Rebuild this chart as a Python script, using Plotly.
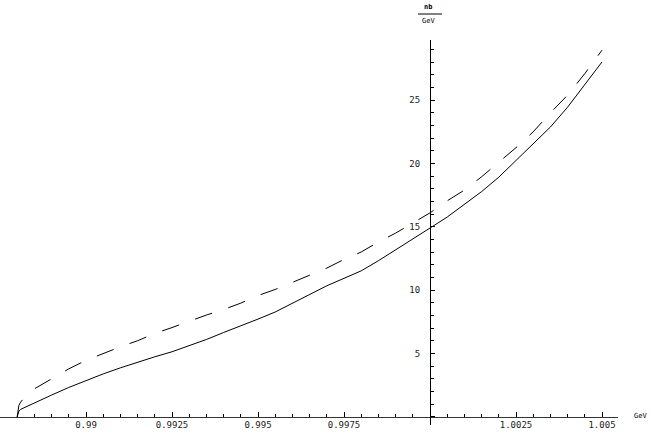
import plotly.graph_objects as go

# energy grid (GeV) and the two cross sections (nb/GeV)
energy = [0.98800, 0.98805, 0.98810, 0.98820, 0.98850, 0.98900, 0.98950, 0.99000,
          0.99050, 0.99100, 0.99150, 0.99200, 0.99250, 0.99300, 0.99350, 0.99400,
          0.99450, 0.99500, 0.99550, 0.99600, 0.99650, 0.99700, 0.99750, 0.99800,
          0.99850, 0.99900, 0.99950, 1.00000, 1.00050, 1.00100, 1.00150, 1.00200,
          1.00250, 1.00300, 1.00350, 1.00400, 1.00450, 1.00500]

solid = [0.0, 0.45, 0.58, 0.71, 1.10, 1.71, 2.31, 2.85,
         3.38, 3.86, 4.32, 4.73, 5.13, 5.59, 6.10, 6.65,
         7.15, 7.71, 8.27, 8.94, 9.65, 10.34, 10.93, 11.52,
         12.32, 13.16, 13.99, 14.90, 15.77, 16.74, 17.78, 18.92,
         20.23, 21.50, 22.88, 24.45, 26.19, 28.02]

dashed = [0.0, 0.90, 1.15, 1.50, 2.20, 3.00, 3.78, 4.45,
          5.00, 5.52, 6.00, 6.58, 7.04, 7.54, 8.03, 8.47,
          8.97, 9.57, 10.05, 10.61, 11.20, 11.74, 12.42, 13.01,
          13.80, 14.50, 15.30, 16.10, 17.05, 17.90, 18.95, 20.10,
          21.25, 22.50, 24.00, 25.40, 27.10, 28.95]

x_ticks = [0.99, 0.9925, 0.995, 0.9975, 1.0, 1.0025, 1.005]
x_labels = ['0.99', '0.9925', '0.995', '0.9975', '', '1.0025', '1.005']
y_ticks = [0, 5, 10, 15, 20, 25]
y_labels = ['', '5', '10', '15', '20', '25']

x_range = [0.9875, 1.005465]
y_range = [-0.656, 29.755]

fig = go.Figure()
fig.add_trace(go.Scatter(x=energy, y=solid, mode='lines',
                         line=dict(color='black', width=1)))
fig.add_trace(go.Scatter(x=energy, y=dashed, mode='lines',
                         line=dict(color='black', width=1, dash='18px,17px')))

# axes cross at (1.0, 0) like the original
xpos = (0 - y_range[0]) / (y_range[1] - y_range[0])
ypos = (1.0 - x_range[0]) / (x_range[1] - x_range[0])

tickfont = dict(family='DejaVu Sans Mono', size=9, color='#222')

fig.update_layout(
    width=654, height=436,
    margin=dict(l=0, r=36, t=40, b=11),
    paper_bgcolor='white', plot_bgcolor='white',
    showlegend=False,
    xaxis=dict(range=x_range, anchor='free', position=xpos, domain=[0, 1],
               showgrid=False, zeroline=False, showline=True, linecolor='#333', linewidth=1,
               tickmode='array', tickvals=x_ticks, ticktext=x_labels,
               ticks='inside', ticklen=5, tickcolor='black', tickwidth=1, tickfont=tickfont,
               minor=dict(tickmode='linear', tick0=0.99, dtick=0.0005, ticks='inside',
                          ticklen=3, tickcolor='black', tickwidth=1, showgrid=False)),
    yaxis=dict(range=y_range, anchor='free', position=ypos, domain=[0, 1],
               showgrid=False, zeroline=False, showline=True, linecolor='black', linewidth=1,
               tickmode='array', tickvals=y_ticks, ticktext=y_labels,
               ticks='inside', ticklen=4, tickcolor='black', tickwidth=1, tickfont=tickfont,
               ticklabelstandoff=8,
               minor=dict(tickmode='linear', tick0=0, dtick=1, ticks='inside',
                          ticklen=3, tickcolor='black', tickwidth=1, showgrid=False)),
)

labfont = dict(family='DejaVu Sans Mono', size=7, color='black')
# y unit written as a fraction nb / GeV above the axis
fig.add_annotation(text='<b>nb</b>', xref='paper', yref='paper', x=ypos, y=1,
                   xanchor='center', yanchor='middle',
                   xshift=-2, yshift=33, showarrow=False, font=labfont)
fig.add_annotation(text='GeV', xref='paper', yref='paper', x=ypos, y=1,
                   xanchor='center', yanchor='middle',
                   xshift=-2, yshift=19, showarrow=False, font=labfont)
fig.add_shape(type='line', xref='paper', yref='paper',
              xsizemode='pixel', xanchor=ypos, x0=-12, x1=12,
              ysizemode='pixel', yanchor=1, y0=26, y1=26,
              line=dict(color='black', width=1))
fig.add_annotation(text='GeV', xref='paper', yref='paper', x=1, y=xpos,
                   xanchor='center', yanchor='middle',
                   xshift=22, yshift=1, showarrow=False, font=labfont)

# drop the page's default 8px body margin so the figure sits at the window corner
fig.write_html("out.html", config={'displayModeBar': False},
               post_script="document.body.style.margin='0';")
